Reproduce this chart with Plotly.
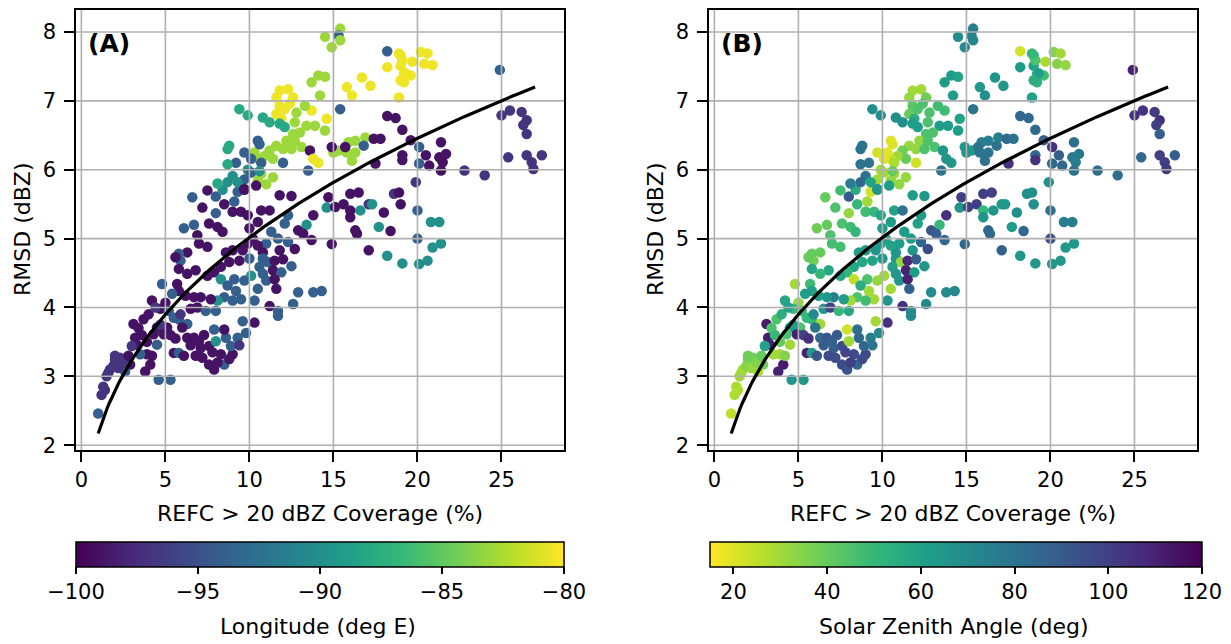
import numpy as np
import plotly.graph_objects as go

FONT = "DejaVu Sans"

# ---------------- data ----------------
# group 1: lower-left / middle band
cov_g1 = [8.0, 9.1, 9.3, 9.7, 8.4, 11.8, 12.5, 8.0, 9.0, 9.5,
          9.9, 10.7, 11.2, 10.5, 12.3, 12.1, 13.4, 13.8, 12.9, 13.2,
          13.7, 6.1, 6.7, 7.6, 8.1, 8.4, 6.9, 7.0, 7.5, 10.2,
          11.0, 11.7, 12.3, 11.8, 10.8, 9.9, 9.6, 9.0, 8.6, 6.3,
          5.8, 5.9, 5.6, 10.0, 10.8, 11.1, 11.5, 9.4, 8.8, 8.3,
          7.9, 7.5, 6.8, 6.3, 5.8, 4.8, 5.7, 10.6, 10.8, 11.4,
          11.9, 11.0, 11.5, 11.6, 10.5, 10.1, 9.7, 9.1, 8.3, 8.7,
          9.2, 9.5, 9.0, 8.5, 8.1, 7.7, 7.1, 6.7, 6.2, 5.8,
          5.4, 5.0, 4.2, 10.3, 11.2, 12.6, 12.9, 13.8, 14.3, 4.7,
          5.2, 5.5, 5.8, 6.5, 6.9, 7.4, 8.0, 6.3, 6.0, 5.1,
          4.5, 4.9, 4.3, 3.7, 3.1, 3.2, 3.3, 3.9, 4.5, 4.1,
          3.8, 2.9, 2.6, 2.3, 2.0, 1.7, 1.6, 1.4, 1.2, 1.0,
          3.0, 3.5, 4.6, 5.3, 5.5, 5.8, 6.3, 6.7, 7.0, 7.1,
          7.6, 8.0, 8.6, 8.5, 7.9, 7.2, 7.6, 7.9, 8.5, 8.3,
          9.0, 8.9, 9.3, 9.8, 9.6, 10.3, 11.7, 11.7]
rmsd_g1 = [5.61, 5.54, 5.68, 5.71, 5.71, 5.63, 5.62, 5.37, 5.39, 5.39,
           5.34, 5.41, 5.41, 5.24, 5.34, 5.22, 5.20, 5.34, 5.12, 5.07,
           4.98, 5.15, 5.20, 5.22, 5.17, 5.10, 5.05, 4.93, 4.88, 5.00,
           4.93, 5.00, 4.95, 4.83, 4.80, 4.93, 4.83, 4.83, 4.80, 4.80,
           4.78, 4.68, 4.73, 4.71, 4.71, 4.66, 4.68, 4.68, 4.66, 4.59,
           4.51, 4.46, 4.54, 4.49, 4.56, 4.34, 4.34, 4.59, 4.49, 4.54,
           4.51, 4.39, 4.41, 4.27, 4.27, 4.46, 4.39, 4.41, 4.41, 4.32,
           4.24, 4.12, 4.10, 4.15, 4.10, 4.12, 4.15, 4.15, 4.17, 4.24,
           4.20, 4.07, 4.10, 4.10, 4.02, 4.05, 4.22, 4.22, 4.24, 3.98,
           3.95, 3.85, 3.83, 3.98, 4.00, 3.95, 3.95, 3.76, 3.71, 3.71,
           3.71, 3.61, 3.61, 3.83, 3.76, 3.56, 3.46, 3.32, 3.46, 3.17,
           3.07, 3.17, 3.07, 3.27, 3.24, 3.10, 3.05, 2.80, 2.73, 2.46,
           3.44, 3.32, 2.95, 2.95, 3.34, 3.34, 3.56, 3.56, 3.51, 3.41,
           3.44, 3.51, 3.56, 3.68, 3.68, 3.27, 3.17, 3.10, 3.17, 3.32,
           3.32, 3.44, 3.56, 3.63, 3.80, 3.78, 3.88, 3.95]
lon_g1 = [-94, -94, -94, -99, -90, -99, -99, -94, -99, -99,
          -99, -99, -99, -99, -94, -94, -90, -99, -99, -99,
          -99, -94, -94, -99, -99, -99, -99, -99, -99, -99,
          -94, -94, -94, -99, -99, -99, -99, -99, -99, -99,
          -94, -94, -99, -94, -94, -94, -99, -99, -99, -99,
          -99, -99, -99, -99, -99, -94, -99, -94, -94, -99,
          -94, -94, -99, -99, -94, -90, -94, -94, -90, -94,
          -94, -94, -94, -94, -90, -99, -99, -99, -99, -99,
          -94, -99, -99, -94, -99, -94, -94, -94, -94, -99,
          -94, -94, -94, -99, -99, -94, -94, -94, -99, -99,
          -99, -99, -99, -99, -99, -99, -99, -99, -94, -99,
          -99, -99, -94, -97, -97, -97, -97, -97, -97, -94,
          -97, -94, -94, -94, -99, -94, -99, -99, -99, -99,
          -99, -90, -94, -99, -94, -99, -99, -99, -94, -99,
          -99, -94, -94, -94, -94, -99, -94, -94]
sza_g1 = [90, 30, 22, 60, 55, 62, 65, 32, 48, 50,
          58, 60, 80, 62, 62, 60, 50, 105, 92, 88,
          85, 38, 40, 45, 48, 50, 45, 47, 47, 60,
          62, 62, 85, 65, 65, 62, 65, 63, 62, 40,
          40, 38, 40, 62, 65, 32, 108, 60, 58, 58,
          50, 58, 58, 50, 58, 30, 48, 60, 65, 110,
          62, 65, 110, 88, 30, 30, 32, 45, 25, 55,
          30, 30, 48, 45, 30, 62, 75, 65, 62, 60,
          62, 32, 58, 65, 105, 70, 70, 70, 70, 48,
          48, 50, 50, 65, 100, 50, 58, 30, 80, 45,
          60, 110, 45, 45, 112, 112, 110, 30, 30, 112,
          110, 38, 28, 38, 38, 30, 30, 28, 28, 25,
          60, 30, 65, 65, 110, 62, 85, 92, 88, 88,
          95, 30, 85, 82, 22, 95, 95, 92, 85, 95,
          95, 85, 75, 70, 30, 105, 70, 70]

# group 2: upper-middle cluster
cov_g2 = [14.5, 15.4, 15.3, 15.4, 14.9, 18.2, 19.0, 19.0, 18.2, 19.2,
          19.6, 19.2, 18.9, 20.2, 16.7, 17.2, 15.8, 16.1, 14.1, 14.5,
          13.7, 14.2, 11.8, 12.3, 12.6, 11.6, 11.8, 12.1, 12.4, 11.6,
          11.9, 13.7, 13.3, 12.8, 14.6, 15.4, 12.7, 13.4, 13.9, 14.5,
          13.0, 12.6, 12.2, 12.7, 11.6, 12.0, 12.5, 13.1, 11.2, 11.4,
          10.9, 10.5, 10.3, 9.4, 9.9, 10.8, 11.2, 11.8, 12.1, 8.8,
          8.7, 10.5, 10.6, 9.7, 9.2, 8.7, 10.1, 10.7, 12.0, 13.6,
          13.8, 14.1, 13.5, 15.0, 15.3, 15.9, 16.3, 16.9, 15.8, 16.3,
          16.1, 16.8, 17.4, 15.7, 14.9, 9.9, 10.1, 9.7, 10.7, 10.5,
          11.0, 11.4, 10.6, 9.0, 8.7, 9.3, 10.4, 9.7, 14.7, 14.6,
          8.1]
rmsd_g2 = [7.93, 8.05, 7.95, 7.88, 7.78, 7.72, 7.66, 7.51, 7.49, 7.39,
           7.37, 7.27, 7.05, 7.71, 7.34, 7.22, 7.20, 7.08, 7.37, 7.35,
           7.27, 7.08, 7.15, 7.17, 7.05, 7.05, 6.93, 6.88, 6.96, 6.81,
           6.74, 6.86, 6.93, 6.83, 6.74, 6.88, 6.69, 6.64, 6.64, 6.57,
           6.54, 6.52, 6.42, 6.42, 6.35, 6.30, 6.30, 6.33, 6.28, 6.16,
           6.20, 6.16, 6.25, 6.88, 6.79, 6.76, 6.69, 6.67, 6.62, 6.35,
           6.30, 6.42, 6.37, 6.25, 6.10, 6.08, 6.16, 6.10, 6.10, 6.28,
           6.16, 6.10, 5.99, 6.25, 6.28, 6.40, 6.42, 6.47, 6.25, 6.25,
           6.13, 6.35, 6.45, 6.33, 6.33, 6.00, 5.96, 5.86, 5.94, 5.84,
           5.79, 5.89, 5.98, 5.91, 5.82, 5.82, 5.77, 5.72, 5.60, 5.45,
           5.80]
lon_g2 = [-83, -83, -94, -83, -83, -94, -80.5, -80.5, -80.5, -80.5,
          -80.5, -80.5, -80.5, -80.5, -80.5, -80.5, -80.5, -80.5, -83, -83,
          -83, -83, -80.5, -80.5, -80.5, -80.5, -80.5, -80.5, -80.5, -80.5,
          -80.5, -80.5, -83, -83, -80.5, -94, -83, -83, -83, -83,
          -83, -83, -83, -83, -83, -83, -83, -83, -83, -83,
          -83, -83, -83, -88, -88, -88, -88, -88, -88, -88,
          -88, -94, -94, -94, -94, -88, -94, -94, -94, -99,
          -80.5, -80.5, -94, -83, -83, -83, -83, -83, -83, -83,
          -83, -94, -99, -99, -99, -90, -94, -94, -83, -83,
          -83, -83, -90, -90, -90, -90, -99, -99, -99, -90,
          -88]
sza_g2 = [70, 75, 72, 72, 70, 22, 55, 60, 62, 50,
          48, 52, 60, 35, 65, 65, 65, 68, 62, 60,
          62, 62, 30, 30, 38, 32, 42, 45, 45, 40,
          55, 48, 48, 45, 60, 80, 45, 62, 62, 62,
          45, 45, 32, 45, 32, 32, 45, 45, 38, 40,
          30, 25, 20, 68, 68, 68, 68, 62, 62, 80,
          80, 20, 20, 22, 80, 80, 20, 28, 22, 65,
          65, 65, 80, 65, 65, 75, 75, 75, 80, 80,
          80, 80, 85, 80, 65, 30, 30, 30, 30, 32,
          32, 32, 40, 80, 85, 60, 62, 65, 100, 65,
          75]

# group 3: right-hand side
cov_g3 = [20.6, 20.4, 20.9, 19.7, 19.1, 19.3, 19.0, 18.9, 24.9, 18.2,
          18.7, 19.1, 19.6, 20.1, 20.1, 19.1, 19.1, 20.5, 20.7, 21.4,
          21.3, 21.7, 21.5, 21.4, 22.8, 24.0, 17.8, 17.5, 25.0, 25.5,
          26.2, 26.5, 26.3, 26.5, 25.4, 26.5, 26.8, 26.9, 27.4, 19.9,
          16.0, 16.5, 15.6, 15.1, 18.6, 18.9, 19.0, 17.1, 17.3, 16.6,
          16.0, 16.0, 18.0, 20.0, 20.8, 21.3, 17.7, 16.3, 16.4, 18.4,
          14.9, 17.1, 18.2, 19.1, 20.0, 20.1, 20.6, 20.9, 21.4]
rmsd_g3 = [7.69, 7.54, 7.52, 7.57, 7.59, 7.40, 7.30, 7.69, 7.45, 6.78,
           6.75, 6.58, 6.43, 6.33, 6.09, 6.21, 6.14, 6.21, 6.06, 6.40,
           6.18, 6.23, 6.11, 5.99, 5.99, 5.92, 6.45, 6.09, 6.79, 6.86,
           6.84, 6.72, 6.65, 6.52, 6.18, 6.21, 6.11, 6.01, 6.21, 5.82,
           5.65, 5.67, 5.50, 5.46, 5.65, 5.67, 5.50, 5.50, 5.50, 5.41,
           5.41, 5.31, 5.38, 5.41, 5.24, 5.24, 5.17, 5.12, 5.07, 5.11,
           4.92, 4.83, 4.75, 4.64, 5.00, 4.63, 4.68, 4.87, 4.93]
lon_g3 = [-80.5, -80.5, -80.5, -80.5, -80.5, -80.5, -80.5, -80.5, -94, -99,
          -99, -99, -99, -94, -94, -99, -99, -99, -99, -99,
          -99, -99, -99, -99, -97, -97, -99, -99, -97, -97,
          -97, -97, -97, -97, -97, -97, -97, -97, -97, -97,
          -99, -99, -99, -99, -97, -99, -99, -97, -90, -90,
          -99, -99, -99, -94, -90, -90, -90, -99, -99, -99,
          -99, -99, -90, -90, -94, -90, -90, -90, -90]
sza_g3 = [30, 35, 32, 28, 45, 62, 55, 50, 110, 85,
          85, 85, 88, 105, 85, 85, 105, 88, 85, 82,
          78, 78, 75, 80, 82, 82, 80, 105, 105, 105,
          102, 105, 100, 88, 85, 100, 100, 102, 88, 68,
          100, 100, 100, 100, 68, 68, 68, 65, 65, 65,
          50, 65, 68, 80, 75, 75, 62, 85, 85, 85,
          85, 88, 65, 65, 95, 65, 65, 65, 65]

# group 4: extra points in the dense lower-left band
cov_g4 = [1.3, 1.5, 1.9, 2.2, 2.5, 2.0, 2.8, 3.4, 3.6, 4.0,
          4.4, 3.9, 4.7, 5.3, 5.6, 5.9, 4.2, 6.5, 6.8, 7.3,
          7.8, 8.1, 6.1, 8.8, 9.4, 7.2, 6.6, 7.5, 8.5, 10.5,
          10.0, 11.3, 12.0, 12.7, 12.5]
rmsd_g4 = [2.85, 3.00, 3.15, 3.12, 3.20, 3.30, 3.30, 3.70, 3.60, 3.90,
           4.00, 3.50, 3.75, 3.60, 3.55, 3.90, 3.30, 3.45, 3.30, 3.60,
           3.35, 3.20, 3.30, 3.25, 3.45, 5.45, 5.60, 5.70, 5.50, 4.90,
           5.15, 5.10, 4.70, 4.85, 4.60]
lon_g4 = [-97, -97, -97, -97, -97, -97, -99, -99, -99, -99,
          -97, -99, -97, -99, -99, -97, -99, -99, -99, -99,
          -99, -99, -99, -99, -97, -99, -94, -99, -99, -99,
          -99, -94, -99, -99, -94]
sza_g4 = [28, 30, 35, 32, 35, 38, 40, 45, 50, 55,
          60, 40, 62, 100, 105, 70, 35, 90, 95, 90,
          98, 100, 92, 96, 80, 45, 40, 48, 50, 60,
          62, 62, 90, 95, 65]

coverage = cov_g1 + cov_g2 + cov_g3 + cov_g4
rmsd = rmsd_g1 + rmsd_g2 + rmsd_g3 + rmsd_g4
longitude = lon_g1 + lon_g2 + lon_g3 + lon_g4
sza = sza_g1 + sza_g2 + sza_g3 + sza_g4

# power-law fit RMSD = a * coverage ** b
fit_a, fit_b = 2.17, 0.364
fit_xmin, fit_xmax = 1.0, 27.0

x_ticks = [0, 5, 10, 15, 20, 25]
y_ticks = [2, 3, 4, 5, 6, 7, 8]
x_range = [-0.32, 28.72]
y_range = [1.93, 8.32]

lon_ticks = [-100, -95, -90, -85, -80]
lon_ticktext = ["\u2212100", "\u221295", "\u221290", "\u221285", "\u221280"]
sza_ticks = [20, 40, 60, 80, 100, 120]

# ---------------- figure ----------------
W, H = 1223, 636          # page body has an 8 px margin
FS = 21                   # tick labels
FT = 22                   # axis / colorbar titles

fig = go.Figure()

fit_x = np.linspace(fit_xmin, fit_xmax, 200)
fit_y = fit_a * fit_x ** fit_b

grid_color = "#b0b0b0"


def grid_xy():
    gx, gy = [], []
    for v in x_ticks:
        gx += [v, v, None]
        gy += [y_range[0], y_range[1], None]
    for v in y_ticks:
        gx += [x_range[0], x_range[1], None]
        gy += [v, v, None]
    return gx, gy


panels = [
    ("x", "y", longitude, "coloraxis"),
    ("x2", "y2", sza, "coloraxis2"),
]
for xa, ya, cvals, cax in panels:
    fig.add_trace(go.Scatter(
        x=coverage, y=rmsd, mode="markers", xaxis=xa, yaxis=ya,
        marker=dict(size=10.5, color=cvals, coloraxis=cax, line=dict(width=0)),
        hoverinfo="skip", showlegend=False))
    gx, gy = grid_xy()
    fig.add_trace(go.Scatter(
        x=gx, y=gy, mode="lines", xaxis=xa, yaxis=ya,
        line=dict(color=grid_color, width=1.6), hoverinfo="skip",
        showlegend=False))
    fig.add_trace(go.Scatter(
        x=fit_x, y=fit_y, mode="lines", xaxis=xa, yaxis=ya,
        line=dict(color="black", width=3.2), hoverinfo="skip",
        showlegend=False))

axis_common = dict(
    showgrid=False, showline=True, linecolor="black", linewidth=1.6,
    mirror=True, ticks="outside", ticklen=10, tickwidth=1.6,
    tickcolor="black", zeroline=False, automargin=False,
    tickfont=dict(family=FONT, size=FS, color="black"))


def px_x(p):
    return (p - 8) / W


def px_y(p):
    return 1 - (p - 8) / H


y_dom = [px_y(450), px_y(10)]
fig.update_layout(
    xaxis=dict(domain=[px_x(76), px_x(564)], range=x_range, tickvals=x_ticks,
               anchor="y", **axis_common),
    yaxis=dict(domain=y_dom, range=y_range, tickvals=y_ticks, anchor="x",
               ticklabelstandoff=4, **axis_common),
    xaxis2=dict(domain=[px_x(709), px_x(1197)], range=x_range, tickvals=x_ticks,
                anchor="y2", **axis_common),
    yaxis2=dict(domain=y_dom, range=y_range, tickvals=y_ticks, anchor="x2",
                ticklabelstandoff=4, **axis_common),
)

cbar_common = dict(
    orientation="h", thickness=25, thicknessmode="pixels", lenmode="fraction",
    y=px_y(542), yanchor="top", xanchor="center", xpad=0, ypad=0,
    outlinecolor="black", outlinewidth=1.5, ticks="outside", ticklen=7,
    tickwidth=1.5, tickcolor="black",
    tickfont=dict(family=FONT, size=FS, color="black"))

fig.update_layout(
    width=W, height=H,
    margin=dict(l=0, r=0, t=0, b=0),
    paper_bgcolor="white", plot_bgcolor="white",
    showlegend=False,
    font=dict(family=FONT, size=FS, color="black"),
    coloraxis=dict(
        colorscale="Viridis", cmin=-100, cmax=-80,
        colorbar=dict(x=px_x(320), len=488 / W, tickvals=lon_ticks,
                      ticktext=lon_ticktext, **cbar_common)),
    coloraxis2=dict(
        colorscale="Viridis", reversescale=True, cmin=15, cmax=120,
        colorbar=dict(x=px_x(956), len=492 / W, tickvals=sza_ticks,
                      **cbar_common)),
)

annots = [
    dict(text="<b>(A)</b>", x=px_x(86), y=px_y(43), xanchor="left",
         yanchor="middle", font=dict(size=25)),
    dict(text="<b>(B)</b>", x=px_x(719), y=px_y(43), xanchor="left",
         yanchor="middle", font=dict(size=25)),
    dict(text="RMSD (dBZ)", x=px_x(22), y=px_y(230), textangle=-90,
         xanchor="center", yanchor="middle", font=dict(size=FT)),
    dict(text="RMSD (dBZ)", x=px_x(655), y=px_y(230), textangle=-90,
         xanchor="center", yanchor="middle", font=dict(size=FT)),
    dict(text="REFC &gt; 20 dBZ Coverage (%)", x=px_x(320), y=px_y(513),
         xanchor="center", yanchor="middle", font=dict(size=FT)),
    dict(text="REFC &gt; 20 dBZ Coverage (%)", x=px_x(953), y=px_y(513),
         xanchor="center", yanchor="middle", font=dict(size=FT)),
    dict(text="Longitude (deg E)", x=px_x(318), y=px_y(626),
         xanchor="center", yanchor="middle", font=dict(size=FT)),
    dict(text="Solar Zenith Angle (deg)", x=px_x(954), y=px_y(626),
         xanchor="center", yanchor="middle", font=dict(size=FT)),
]
for a in annots:
    a.update(xref="paper", yref="paper", showarrow=False)
    a["font"].update(family=FONT, color="black")
fig.update_layout(annotations=annots)

fig.write_html("out.html")
